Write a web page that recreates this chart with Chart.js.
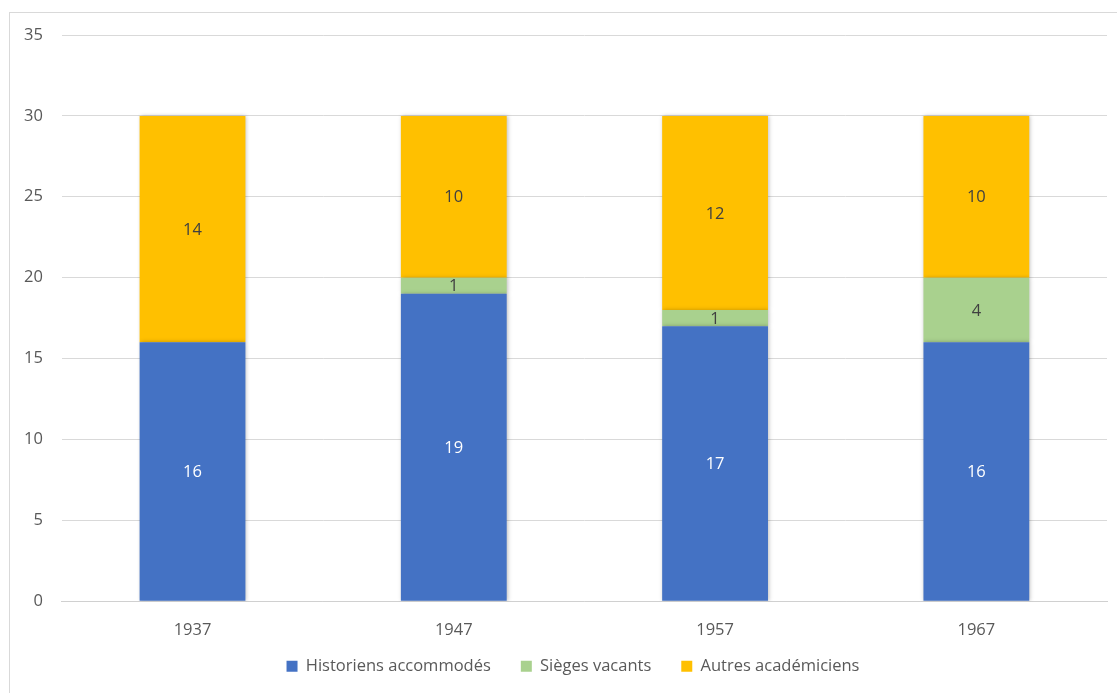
<!DOCTYPE html>
<html>
<head>
<meta charset="utf-8">
<script src="https://cdn.jsdelivr.net/npm/chart.js@4"></script>
<style>
  html, body { margin: 0; padding: 0; background: #fff; }
  #wrap { position: relative; width: 1117px; height: 693px; }
  #frame { position: absolute; left: 9px; top: 12px; width: 1120px; height: 690px; border: 1px solid #d9d9d9; box-sizing: border-box; }
  canvas { position: absolute; left: 0; top: 0; }
</style>
</head>
<body>
<div id="wrap">
  <div id="frame"></div>
  <canvas id="myChart" width="1117" height="693"></canvas>
</div>
<script>
var years = ["1937", "1947", "1957", "1967"];
var historiens = [16, 19, 17, 16];
var vacants = [0, 1, 1, 4];
var autres = [14, 10, 12, 10];
var seriesNames = ["Historiens accommodés", "Sièges vacants", "Autres académiciens"];
var barColors = ["#4472c4", "#a9d18e", "#ffc000"];
var labelColors = ["#ffffff", "#404040", "#404040"];

var fontName = "'Open Sans', sans-serif";

// draw the value in the middle of each bar piece
var valueLabels = {
  id: "valueLabels",
  afterDatasetsDraw: function(chart) {
    var ctx = chart.ctx;
    ctx.save();
    ctx.font = "16.5px " + fontName;
    ctx.textAlign = "center";
    ctx.textBaseline = "middle";
    chart.data.datasets.forEach(function(ds, i) {
      var meta = chart.getDatasetMeta(i);
      meta.data.forEach(function(bar, j) {
        var v = ds.data[j];
        if (!v) return;
        ctx.fillStyle = labelColors[i];
        ctx.fillText(v, bar.x, (bar.y + bar.base) / 2 + 1);
      });
    });
    ctx.restore();
  }
};

// soft shadow behind the bars
var barShadow = {
  id: "barShadow",
  beforeDatasetsDraw: function(chart) {
    chart.ctx.save();
    chart.ctx.shadowColor = "rgba(0,0,0,0.25)";
    chart.ctx.shadowBlur = 4;
    chart.ctx.shadowOffsetX = 1;
  },
  afterDatasetsDraw: function(chart) {
    chart.ctx.restore();
  }
};

// legend: takes less room than its padding asks for, drawn a bit higher
// and centred under the plot rather than the canvas
var legendFit = {
  id: "legendFit",
  beforeInit: function(chart) {
    var orig = chart.legend.fit;
    chart.legend.fit = function() {
      orig.call(this);
      this.height = 42;
    };
  },
  afterLayout: function(chart) {
    chart.legend.top -= 23;
    chart.legend.left += 17;
    chart.legend.right += 17;
  }
};

new Chart("myChart", {
  type: "bar",
  data: {
    labels: years,
    datasets: [
      { label: seriesNames[0], data: historiens, backgroundColor: barColors[0] },
      { label: seriesNames[1], data: vacants, backgroundColor: barColors[1] },
      { label: seriesNames[2], data: autres, backgroundColor: barColors[2] }
    ]
  },
  options: {
    responsive: false,
    animation: false,
    datasets: { bar: { categoryPercentage: 1, barPercentage: 0.405 } },
    layout: { padding: { left: 5, right: 10, top: 35, bottom: 0 } },
    scales: {
      x: {
        stacked: true,
        grid: { display: false },
        border: { display: true, color: "#d0d0d0" },
        ticks: { color: "#595959", font: { family: fontName, size: 16.5 }, padding: 11 }
      },
      y: {
        stacked: true,
        min: 0,
        max: 35,
        ticks: { stepSize: 5, color: "#595959", font: { family: fontName, size: 16.5 }, padding: 19 },
        grid: { color: "#d9d9d9", drawTicks: false },
        border: { display: false }
      }
    },
    plugins: {
      legend: {
        position: "bottom",
        labels: {
          color: "#595959",
          font: { family: fontName, size: 16.5 },
          boxWidth: 11,
          boxHeight: 11,
          padding: 30
        }
      },
      tooltip: { enabled: false }
    }
  },
  plugins: [legendFit, barShadow, valueLabels]
});
</script>
</body>
</html>
